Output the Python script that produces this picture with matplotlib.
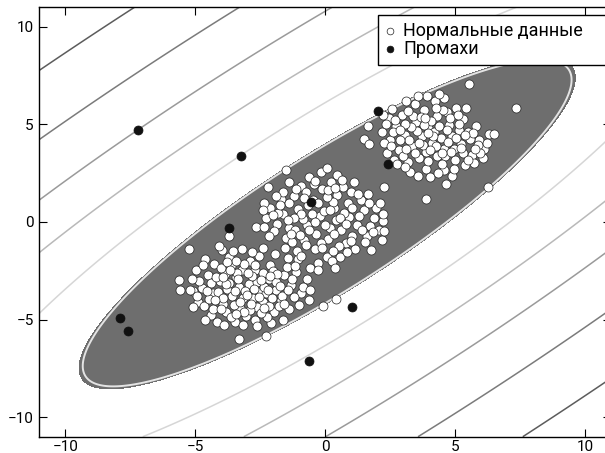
import numpy as np
import matplotlib
matplotlib.use("Agg")
import matplotlib.pyplot as plt

plt.rcParams['font.family'] = ['Roboto', 'DejaVu Sans']

# --- normal observations: three groups plus a few stragglers -----------------
cluster_a = [
    (-2.95, -3.18), (-3.42, -2.81), (-2.51, -3.57), (-3.78, -3.42), (-2.18, -2.93), (-3.15, -3.87),
    (-2.72, -2.46), (-4.05, -3.01), (-1.89, -3.48), (-3.61, -2.23), (-2.38, -4.12), (-4.31, -3.66),
    (-1.58, -2.71), (-3.28, -4.41), (-2.91, -1.98), (-4.52, -2.72), (-1.71, -4.02), (-3.92, -4.21),
    (-2.12, -2.21), (-4.73, -3.38), (-1.32, -3.21), (-3.05, -4.83), (-2.55, -1.72), (-4.28, -2.15),
    (-1.96, -4.61), (-3.71, -1.81), (-4.88, -4.12), (-1.12, -2.58), (-2.71, -5.02), (-3.48, -5.11),
    (-4.41, -4.78), (-0.92, -3.62), (-1.44, -1.85), (-4.97, -2.48), (-2.08, -5.18), (-3.97, -1.42),
    (-0.71, -2.91), (-5.08, -3.52), (-1.38, -4.47), (-3.22, -1.38), (-2.41, -1.31), (-4.62, -1.92),
    (-0.62, -3.98), (-4.18, -5.12), (-1.07, -1.92), (-3.33, -3.32), (-2.64, -3.05), (-3.58, -3.78),
    (-2.28, -3.62), (-3.87, -2.68), (-2.79, -3.91), (-2.41, -2.62), (-3.21, -2.47), (-4.12, -3.58),
    (-1.91, -3.08), (-3.51, -4.25), (-2.62, -4.36), (-4.38, -3.12), (-1.65, -3.79), (-3.11, -2.15),
    (-2.02, -2.51), (-3.83, -4.61), (-4.65, -4.33), (-1.49, -2.31), (-2.91, -4.52), (-4.02, -2.38),
    (-1.78, -4.31), (-3.42, -1.98), (-2.25, -4.88), (-4.84, -3.01), (-1.21, -3.86), (-3.09, -3.55),
    (-2.83, -2.79), (-3.69, -3.12), (-2.36, -3.31), (-3.94, -3.89), (-2.56, -3.82), (-3.27, -4.08),
    (-1.86, -2.68), (-4.22, -2.83), (-2.17, -4.28), (-3.62, -4.87), (-1.42, -3.46), (-4.48, -3.93),
    (-2.71, -2.18), (-3.38, -2.61), (-2.06, -3.91), (-4.31, -4.46), (-1.27, -2.92), (-3.78, -2.04),
    (-2.47, -4.65), (-3.15, -5.26), (-4.71, -2.21), (-0.87, -3.31), (-1.61, -5.02), (-3.89, -5.28),
    (-0.58, -3.51), (-4.95, -3.78), (-2.82, -1.52), (-1.93, -1.62), (-3.55, -1.51), (-1.02, -4.23),
    (-4.61, -5.01), (-2.61, -5.34), (-5.12, -2.91), (-1.18, -2.28), (-3.02, -3.72), (-3.49, -3.54),
    (-2.47, -2.98), (-3.83, -3.18), (-2.21, -3.47), (-3.34, -2.92), (-2.87, -4.21), (-4.02, -4.47),
    (-1.75, -3.28), (-3.66, -2.45), (-2.98, -2.62), (-4.55, -3.52), (-2.35, -4.42), (-3.12, -4.62),
    (-1.58, -4.19), (-4.25, -4.01), (-2.75, -3.41), (-3.95, -2.82), (-2.11, -2.77), (-3.45, -4.72),
]

cluster_b = [
    (-0.21, 0.32), (0.34, 0.71), (-0.72, -0.18), (0.62, -0.42), (-1.05, 0.68), (0.12, -0.85),
    (-0.48, 1.12), (0.91, 0.24), (-1.38, -0.29), (0.45, 1.38), (-0.83, -0.92), (1.23, -0.17),
    (-1.62, 0.41), (-0.11, 1.69), (0.78, -1.08), (-1.21, 1.34), (1.47, 0.63), (-0.38, -1.41),
    (0.21, 2.05), (-1.87, -0.08), (1.62, -0.71), (-0.93, 1.86), (0.97, 1.52), (-1.51, -0.81),
    (0.05, -1.78), (-2.12, 0.72), (1.88, 0.18), (-0.62, 2.31), (0.58, -1.82), (-1.72, 1.18),
    (1.36, 1.11), (-1.08, -1.49), (2.07, -0.43), (-0.29, -2.12), (0.46, 2.42), (-2.28, 0.21),
    (1.15, -1.39), (-1.41, 2.04), (-0.05, 0.58), (0.42, 0.08), (-0.51, 0.41), (0.17, -0.31),
    (-0.86, 0.14), (0.71, 0.46), (-0.34, -0.64), (0.29, 1.01), (-0.67, 0.87), (1.04, -0.72),
    (-1.16, -0.42), (0.05, 1.26), (-1.39, 0.97), (0.86, 0.97), (-0.16, -1.07), (1.31, 0.31),
    (-1.81, 0.48), (-0.75, 1.54), (0.51, -1.21), (-1.27, -1.03), (1.72, -0.19), (-0.43, 1.93),
    (0.68, 1.79), (-1.96, -0.45), (0.28, -1.49), (-1.63, 1.52), (1.52, -1.05), (-0.95, -1.76),
    (1.96, 0.74), (-0.18, 2.55), (-2.35, 0.98), (0.82, -1.56), (-1.55, -1.31), (1.11, 2.03),
    (-0.58, -2.34), (2.21, 0.05), (-2.15, -0.71), (-0.02, -0.15), (-0.41, 0.02), (0.56, 0.21),
    (-0.95, 0.42), (0.18, 0.63), (-0.28, 0.95), (0.81, -0.12), (-1.22, 0.21), (0.32, -0.62),
    (-0.61, -0.41), (1.02, 0.71), (-0.83, 1.21), (0.11, 1.62), (-1.45, 0.08), (1.41, -0.43),
    (-0.12, -1.31), (0.98, -0.96), (-1.74, 0.86), (0.38, 1.76), (-0.97, -0.69), (1.66, 0.95),
    (-1.12, 1.71), (-2.02, 0.35), (0.64, 2.16), (0.24, -2.02), (-0.73, -1.19), (1.82, -0.52),
    (-1.32, -0.63), (-0.39, 2.12), (1.25, 1.42), (-1.89, 1.33), (-1.52, 2.68), (0.08, 2.74),
    (-0.28, -2.45), (0.38, -2.37), (2.12, 0.95), (-2.38, 0.62), (2.18, -0.91), (1.77, -1.45),
    (-2.21, 1.78),
]

cluster_c = [
    (4.12, 4.05), (3.71, 4.38), (4.55, 3.72), (3.34, 3.91), (4.86, 4.41), (3.95, 4.82),
    (4.31, 3.36), (3.06, 4.47), (5.21, 3.98), (3.62, 3.27), (4.74, 4.97), (2.83, 3.68),
    (5.47, 4.62), (3.48, 5.12), (4.28, 5.41), (2.71, 4.93), (5.63, 3.41), (3.19, 3.05),
    (4.97, 3.15), (2.47, 4.21), (5.92, 4.18), (3.87, 2.71), (4.58, 2.64), (2.94, 5.49),
    (3.81, 5.73), (4.66, 5.62), (5.28, 5.27), (2.36, 3.52), (6.11, 3.72), (3.27, 2.58),
    (5.36, 2.91), (2.58, 5.78), (3.45, 6.06), (4.21, 6.18), (5.02, 5.84), (5.78, 4.92),
    (2.19, 4.63), (6.31, 4.51), (4.03, 2.31), (4.86, 2.37), (3.58, 2.34), (2.65, 3.15),
    (5.71, 3.03), (6.05, 3.28), (3.12, 6.21), (3.92, 6.43), (4.58, 6.33), (5.42, 5.83),
    (2.43, 5.35), (2.27, 4.05), (3.86, 3.58), (4.43, 4.31), (3.53, 4.68), (4.95, 3.73),
    (4.17, 4.62), (3.21, 4.21), (5.14, 4.71), (4.61, 3.38), (3.74, 3.94), (4.38, 4.91),
    (2.97, 3.39), (5.58, 4.24), (3.38, 5.45), (4.05, 5.18), (4.81, 5.31), (2.88, 4.18),
    (5.31, 3.51), (3.95, 3.12), (4.72, 4.12), (3.29, 4.88), (4.49, 2.98), (5.66, 4.55),
    (2.61, 4.59), (3.66, 5.36), (5.15, 5.02), (4.24, 3.87), (3.07, 5.02), (5.87, 3.95),
    (2.52, 3.87), (4.93, 2.72), (3.45, 3.55), (4.14, 4.38), (5.03, 4.28), (3.78, 4.99),
    (4.53, 5.74), (3.16, 5.71), (2.77, 2.95), (6.22, 4.02), (5.48, 3.17), (3.05, 2.82),
    (4.35, 2.49), (5.09, 5.50), (2.35, 5.02), (3.57, 6.47), (4.39, 6.55), (5.93, 3.52),
    (2.68, 5.24), (4.85, 3.58), (3.94, 4.58), (4.25, 5.86), (3.60, 4.03), (4.68, 4.72),
    (5.37, 4.44), (3.12, 3.72), (4.01, 3.68), (5.76, 3.73), (2.86, 4.71), (4.47, 3.55),
    (3.83, 5.32), (5.22, 3.78),
]

stray_points = [
    (-5.23, -1.38), (-3.31, -5.99), (-2.28, -5.82), (-5.10, -4.34), (-5.62, -2.97), (-5.60, -3.50),
    (-5.20, -3.50), (-4.08, -1.21), (-2.67, -0.28), (-2.35, -0.28), (-3.69, -0.70), (0.41, -3.94),
    (-0.10, -4.29), (5.54, 7.07), (6.24, 1.81), (2.27, 1.77), (3.87, 1.18), (4.64, 1.95),
    (1.63, 4.93), (7.35, 5.85), (1.50, 4.25), (1.69, 4.00), (2.20, 5.50), (1.63, 1.43),
    (2.20, 0.40), (2.27, -0.44), (6.50, 4.50),
]

# --- observations flagged as outliers ------------------------------------------
outlier_x = [-7.22, -3.24, -3.69, -0.55, 2.01, 2.40, 1.03, -0.62, -7.88, -7.60]
outlier_y = [4.72, 3.39, -0.30, 1.00, 5.70, 2.97, -4.37, -7.11, -4.93, -5.57]

# --- fitted elliptic envelope (robust location / covariance) ---------------
env_location = [0.07, -0.05]
env_covariance = [[10.98, 8.56],
                  [8.56, 8.71]]
threshold = 2.88
outer_levels = [4.36, 6.0, 7.64, 9.64, 12.0]
outer_colors = ['#d6d6d6', '#b9b9b9', '#9a9a9a', '#7b7b7b', '#5c5c5c']

legend_labels = ['Нормальные данные', 'Промахи']
tick_values = [-10, -5, 0, 5, 10]

# -----------------------------------------------------------------------------
normal = np.array(cluster_a + cluster_b + cluster_c + stray_points)

fig = plt.figure(figsize=(6.05, 4.53), dpi=100)
ax = fig.add_axes([0.065, 0.036, 0.9455, 0.948])

grid = np.linspace(-11, 11, 700)
xx, yy = np.meshgrid(grid, grid)
diff = np.stack([xx - env_location[0], yy - env_location[1]], axis=-1)
precision = np.linalg.inv(np.array(env_covariance))
mahal = np.sqrt(np.einsum('...i,ij,...j->...', diff, precision, diff))

ax.contour(xx, yy, mahal, levels=outer_levels, colors=outer_colors,
           linewidths=1.1, zorder=1)
ax.contourf(xx, yy, mahal, levels=[0, threshold], colors=['#6e6e6e'], zorder=1)
ax.contour(xx, yy, mahal, levels=[threshold * 0.985], colors=['#e4e4e4'],
           linewidths=1.4, zorder=2)

ax.scatter(normal[:, 0], normal[:, 1], s=42, c='white', edgecolors='#222222',
           linewidths=0.5, zorder=3, label=legend_labels[0])
ax.scatter(outlier_x, outlier_y, s=42, c='#111111', edgecolors='#111111',
           linewidths=0.5, zorder=4, label=legend_labels[1])

ax.set_xlim(-11, 11)
ax.set_ylim(-11, 11)
ax.set_xticks(tick_values)
ax.set_yticks(tick_values)
ax.tick_params(direction='in', top=True, right=True, length=6, width=0.8,
               labelsize=11)
ax.tick_params(axis='x', pad=2.5)
ax.tick_params(axis='y', pad=4)
for side in ax.spines.values():
    side.set_linewidth(1.0)

leg = ax.legend(loc='upper left',
                bbox_to_anchor=(378 / 605, 1 - 15 / 453 - 0.01, 240 / 605, 0.01),
                bbox_transform=fig.transFigure, mode='expand', borderaxespad=0,
                fontsize=13, scatterpoints=1, markerscale=0.75, handlelength=0.5,
                handletextpad=0.5, labelspacing=0.0, borderpad=0.4,
                fancybox=False, framealpha=1, edgecolor='black')
leg.get_frame().set_linewidth(1.0)

fig.savefig('out.png', dpi=100)
